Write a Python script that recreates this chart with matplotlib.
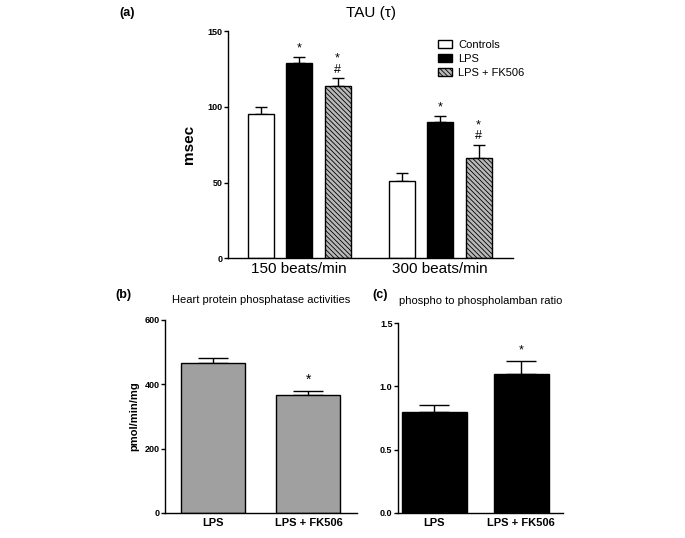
import numpy as np
import matplotlib
matplotlib.use("Agg")
import matplotlib.pyplot as plt

plt.rcParams['font.family'] = ['Liberation Sans', 'DejaVu Sans']
plt.rcParams['hatch.linewidth'] = 0.6

# panel (a): TAU
rates = ["150 beats/min", "300 beats/min"]
groups = ["Controls", "LPS", "LPS + FK506"]
tau_mean = {"Controls": [95, 51], "LPS": [129, 90], "LPS + FK506": [114, 66]}
tau_err = {"Controls": [5, 5], "LPS": [4, 4], "LPS + FK506": [5, 9]}
tau_marks = {"Controls": ["", ""], "LPS": ["*", "*"], "LPS + FK506": ["*\n#", "*\n#"]}

# panel (b): phosphatase activities
treat = ["LPS", "LPS + FK506"]
ppase_mean = [465, 365]
ppase_err = [15, 15]

# panel (c): phospho to phospholamban ratio
ratio_mean = [0.80, 1.10]
ratio_err = [0.05, 0.10]

fig = plt.figure(figsize=(6.85, 5.38), dpi=100)


def style(ax):
    for s in ["top", "right"]:
        ax.spines[s].set_visible(False)
    for s in ["left", "bottom"]:
        ax.spines[s].set_linewidth(1.0)
    ax.tick_params(axis="y", labelsize=6.5, length=3, width=1, pad=1)
    for lab in ax.get_yticklabels():
        lab.set_fontweight("bold")
    ax.tick_params(axis="x", length=0)


# (a)
axa = fig.add_axes([0.333, 0.520, 0.416, 0.422])
styles = {
    "Controls": dict(color="white", hatch=None),
    "LPS": dict(color="black", hatch=None),
    "LPS + FK506": dict(color="#b8b8b8", hatch="\\\\\\\\\\\\\\"),
}
centers = np.array([0, 1.0])
w = 0.185
offs = [-0.273, 0, 0.273]
for g, off in zip(groups, offs):
    x = centers + off
    st = styles[g]
    axa.bar(x, tau_mean[g], w, color=st["color"], edgecolor="black",
            hatch=st["hatch"], linewidth=1.0, label=g, zorder=2)
    axa.errorbar(x, tau_mean[g], yerr=[np.zeros(2), tau_err[g]], fmt="none",
                 ecolor="black", elinewidth=1.0, capsize=4.5, capthick=1.0, zorder=1)
    for xi, m, e, t in zip(x, tau_mean[g], tau_err[g], tau_marks[g]):
        if t:
            axa.text(xi, m + e + 1.5, t, ha="center", va="bottom", fontsize=9,
                     linespacing=0.9)
axa.set_ylim(0, 150)
axa.set_xlim(-0.504, 1.518)
axa.set_yticks([0, 50, 100, 150])
axa.set_xticks(centers)
axa.set_xticklabels(rates, fontsize=11)
axa.set_ylabel("msec", fontsize=11, fontweight="bold", labelpad=8)
style(axa)
axa.tick_params(axis="x", pad=3)
axa.set_title("TAU (τ)", fontsize=11, pad=10)
axa.legend(loc="upper left", bbox_to_anchor=(0.735, 0.962), frameon=False,
           borderpad=0, borderaxespad=0, fontsize=8, handlelength=1.3,
           handleheight=0.75, handletextpad=0.55, labelspacing=0.38)
fig.text(0.175, 0.975, "(a)", fontsize=9, fontweight="bold", va="center")

# (b)
axb = fig.add_axes([0.241, 0.0465, 0.280, 0.359])
xb = np.arange(2)
axb.bar(xb, ppase_mean, 0.67, color="#a0a0a0", edgecolor="black", linewidth=1.0, zorder=2)
axb.errorbar(xb, ppase_mean, yerr=[np.zeros(2), ppase_err], fmt="none", ecolor="black",
             elinewidth=1.0, capsize=11, capthick=1.0, zorder=1)
axb.text(1, ppase_mean[1] + ppase_err[1] + 12, "*", ha="center", va="bottom", fontsize=10)
axb.set_ylim(0, 600)
axb.set_xlim(-0.503, 1.508)
axb.set_yticks([0, 200, 400, 600])
axb.set_xticks(xb)
axb.set_xticklabels(treat, fontsize=8, fontweight="bold")
axb.set_ylabel("pmol/min/mg", fontsize=8, fontweight="bold", labelpad=4)
style(axb)
axb.set_title("Heart protein phosphatase activities", fontsize=8, pad=12)
fig.text(0.168, 0.452, "(b)", fontsize=9, fontweight="bold", va="center")

# (c)
axc = fig.add_axes([0.581, 0.0465, 0.241, 0.353])
axc.bar(xb, ratio_mean, [0.74, 0.64], color="black", edgecolor="black", linewidth=1.0, zorder=2)
axc.errorbar(xb, ratio_mean, yerr=[np.zeros(2), ratio_err], fmt="none", ecolor="black",
             elinewidth=1.0, capsize=11, capthick=1.0, zorder=1)
axc.text(1, ratio_mean[1] + ratio_err[1] + 0.04, "*", ha="center", va="bottom", fontsize=9)
axc.set_ylim(0, 1.5)
axc.set_xlim(-0.42, 1.48)
axc.set_yticks([0, 0.5, 1.0, 1.5])
axc.set_yticklabels(["0.0", "0.5", "1.0", "1.5"])
axc.set_xticks(xb)
axc.set_xticklabels(treat, fontsize=8, fontweight="bold")
style(axc)
axc.set_title("phospho to phospholamban ratio", fontsize=8, pad=14)
fig.text(0.543, 0.452, "(c)", fontsize=9, fontweight="bold", va="center")

fig.savefig("out.png", dpi=100)
